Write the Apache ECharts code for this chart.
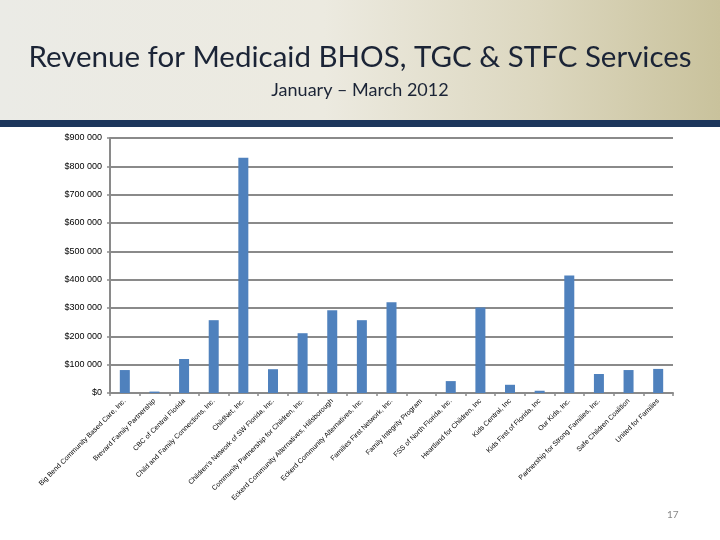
<!DOCTYPE html>
<html><head><meta charset="utf-8">
<script src="https://cdn.jsdelivr.net/npm/echarts@6/dist/echarts.min.js"></script>
<style>html,body{margin:0;padding:0;background:#fff}#c{width:720px;height:540px}</style>
</head><body><div id="c"></div>
<script>
const categories = [
  "Big Bend Community Based Care, Inc.",
  "Brevard Family Partnership",
  "CBC of Central Florida",
  "Child and Family Connections, Inc.",
  "ChildNet, Inc.",
  "Children's Network of SW Florida, Inc.",
  "Community Partnership for Children, Inc.",
  "Eckerd Community Alternatives, Hillsborough",
  "Eckerd Community Alternatives, Inc.",
  "Families First Network, Inc.",
  "Family Integrity Program",
  "FSS of North Florida, Inc.",
  "Heartland for Children, Inc",
  "Kids Central, Inc",
  "Kids First of Florida, Inc",
  "Our Kids, Inc.",
  "Partnership for Strong Families, Inc.",
  "Safe Children Coalition",
  "United for Families"
];
const revenue = [81000, 5000, 120000, 257000, 830000, 84000, 211000, 292000, 257000, 320000, 0, 42000, 302000, 29000, 8000, 415000, 67000, 81000, 85000];
const yTicks = {min: 0, max: 900000, interval: 100000};
const titleText = "Revenue for Medicaid BHOS, TGC & STFC Services";
const subtitleText = "January \u2013 March 2012";
const pageNumber = "17";

const chart = echarts.init(document.getElementById('c'), null, {renderer: 'canvas'});
function fmt(v){
  if (v === 0) return '$0';
  const s = String(v);
  return '$' + s.replace(/\B(?=(\d{3})+(?!\d))/g, ' ');
}
chart.setOption({
  animation: false,
  backgroundColor: '#ffffff',
  graphic: [
    {type: 'rect', left: 0, top: 0, z: -10, shape: {width: 720, height: 120},
     style: {fill: new echarts.graphic.LinearGradient(0, 0, 1, 0, [
       {offset: 0, color: '#ebebe6'}, {offset: 0.45, color: '#eceae0'},
       {offset: 0.75, color: '#dcd7bf'}, {offset: 1, color: '#c9c29c'}])}},
    {type: 'rect', left: 0, top: 120, z: -10, shape: {width: 720, height: 7},
     style: {fill: '#1d365c'}},
    {type: 'text', left: 667, top: 510, style: {text: pageNumber, fill: '#888888', font: '10px Lato, sans-serif'}}
  ],
  title: [
    {text: titleText, left: 'center', top: 37,
     textStyle: {fontFamily: 'Lato, sans-serif', fontWeight: 'normal', fontSize: 29.5, color: '#1b2436'}},
    {text: subtitleText, left: 'center', top: 76,
     textStyle: {fontFamily: 'Lato, sans-serif', fontWeight: 'normal', fontSize: 18, color: '#1b2436'}}
  ],
  grid: {left: 110, right: 47, top: 138, bottom: 147, containLabel: false},
  xAxis: {
    type: 'category', data: categories, boundaryGap: true,
    axisLine: {lineStyle: {color: '#8a8a8a', width: 2}},
    axisTick: {show: true, length: 3, alignWithLabel: false, lineStyle: {color: '#8a8a8a', width: 1.5}},
    axisLabel: {interval: 0, rotate: 45, fontSize: 7, color: '#000', margin: 7,
      fontFamily: '"Liberation Sans", sans-serif'}
  },
  yAxis: {
    type: 'value', min: yTicks.min, max: yTicks.max, interval: yTicks.interval,
    axisLine: {show: true, lineStyle: {color: '#8a8a8a', width: 2}},
    axisTick: {show: true, length: 3, lineStyle: {color: '#8a8a8a', width: 1.5}},
    splitLine: {lineStyle: {color: '#8a8a8a', width: 2}},
    axisLabel: {formatter: fmt, fontSize: 9, color: '#000', margin: 8,
      fontFamily: '"Liberation Sans", sans-serif'}
  },
  series: [{
    type: 'bar', data: revenue, barWidth: 10,
    itemStyle: {color: '#4f81bd'}
  }]
});
</script></body></html>
